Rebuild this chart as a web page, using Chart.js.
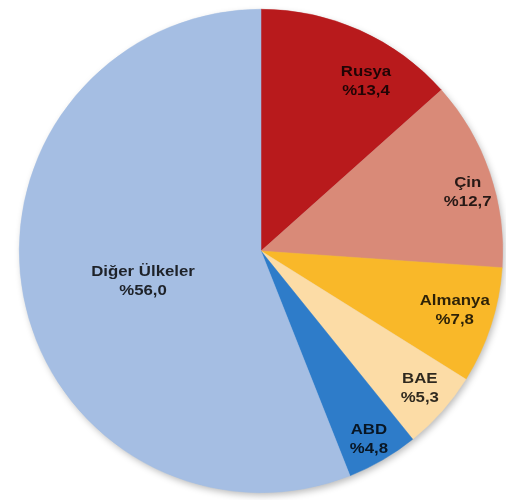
<!DOCTYPE html>
<html>
<head>
<meta charset="utf-8">
<script src="https://cdn.jsdelivr.net/npm/chart.js@4"></script>
<style>
html,body{margin:0;padding:0;background:#fff;}
#wrap{width:506px;height:500px;}
</style>
</head>
<body>
<div id="wrap"><canvas id="c" width="506" height="500"></canvas></div>
<script>
const categories = ["Rusya", "Çin", "Almanya", "BAE", "ABD", "Diğer Ülkeler"];
const shares = [13.4, 12.7, 7.8, 5.3, 4.8, 56.0];
const valueLabels = ["%13,4", "%12,7", "%7,8", "%5,3", "%4,8", "%56,0"];
const colors = ["#B81A1C", "#D98A78", "#F9B829", "#FCDCA6", "#2E7CC9", "#A5BEE3"];
const labelRadius = [0.826, 0.888, 0.839, 0.87, 0.90, 0.504];
const labelAngleShift = [7.6, 3.2, -0.8, -0.6, 0.5, -3.7];

const shadowPlugin = {
  id: 'shadow',
  beforeDatasetsDraw(chart) {
    const arc = chart.getDatasetMeta(0).data[0];
    if (!arc) return;
    const p = arc.getProps(['x','y','outerRadius'], true);
    const ctx = chart.ctx;
    ctx.save();
    ctx.shadowColor = 'rgba(0,0,0,0.28)';
    ctx.shadowBlur = 7;
    ctx.shadowOffsetX = 2;
    ctx.shadowOffsetY = 3;
    ctx.fillStyle = '#A5BEE3';
    ctx.beginPath();
    ctx.arc(p.x, p.y, p.outerRadius - 0.5, 0, Math.PI * 2);
    ctx.fill();
    ctx.restore();
  }
};

const labelPlugin = {
  id: 'sliceLabels',
  afterDatasetsDraw(chart) {
    const ctx = chart.ctx;
    const meta = chart.getDatasetMeta(0);
    meta.data.forEach((arc, i) => {
      const p = arc.getProps(['x','y','startAngle','endAngle','outerRadius'], true);
      const mid = (p.startAngle + p.endAngle) / 2 + labelAngleShift[i] * Math.PI / 180;
      const r = p.outerRadius * labelRadius[i];
      const cx = p.x + Math.cos(mid) * r;
      const cy = p.y + Math.sin(mid) * r;
      ctx.save();
      ctx.translate(cx, cy);
      ctx.scale(1.2, 1);
      ctx.font = 'bold 14px "Liberation Sans", Arial, sans-serif';
      ctx.fillStyle = 'rgba(0,0,0,0.82)';
      ctx.textAlign = 'center';
      ctx.textBaseline = 'middle';
      ctx.fillText(categories[i], 0, -9.5);
      ctx.fillText(valueLabels[i], 0, 9.5);
      ctx.restore();
    });
  }
};

new Chart(document.getElementById('c'), {
  type: 'pie',
  data: {
    labels: categories,
    datasets: [{
      data: shares,
      backgroundColor: colors,
      borderColor: colors,
      borderWidth: 0.5,
      hoverOffset: 0
    }]
  },
  options: {
    responsive: false,
    animation: false,
    layout: { padding: { top: 9, bottom: 7, left: 18, right: 2 } },
    plugins: {
      legend: { display: false },
      tooltip: { enabled: false },
      title: { display: false }
    },
    events: []
  },
  plugins: [shadowPlugin, labelPlugin]
});
</script>
</body>
</html>
